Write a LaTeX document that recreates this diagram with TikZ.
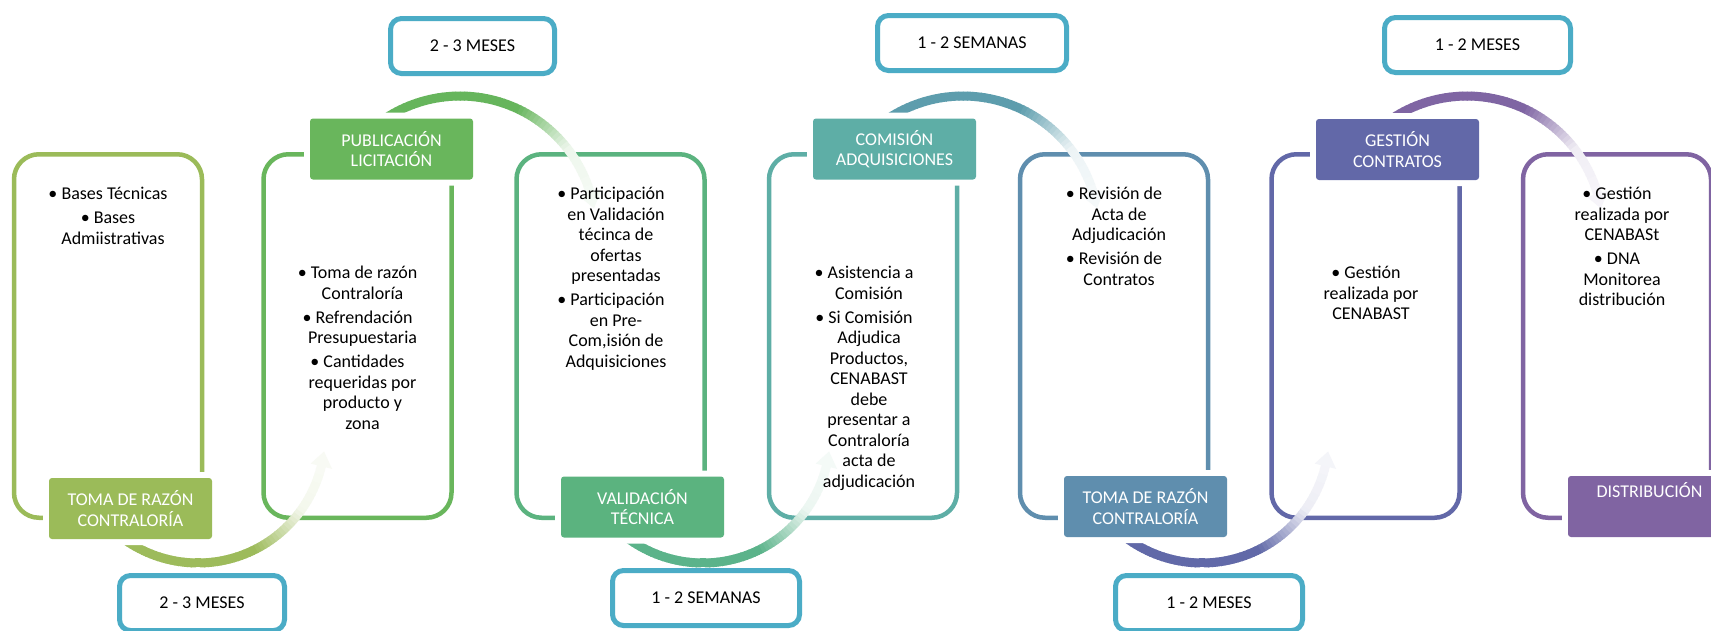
\documentclass[tikz,border=0pt]{standalone}
\usepackage{fontspec}
\setmainfont{Carlito}
\usetikzlibrary{calc}
\definecolor{c1}{HTML}{9BBB59}
\definecolor{c2}{HTML}{69B65C}
\definecolor{c3}{HTML}{5BB37F}
\definecolor{c4}{HTML}{5EAEA6}
\definecolor{c5}{HTML}{5F8EAE}
\definecolor{c6}{HTML}{6268A8}
\definecolor{c7}{HTML}{8064A2}
\definecolor{a1}{HTML}{9DBB5B}
\definecolor{a2}{HTML}{66B55C}
\definecolor{a3}{HTML}{5BB38A}
\definecolor{a4}{HTML}{5D9DAD}
\definecolor{a5}{HTML}{6169A8}
\definecolor{a6}{HTML}{7F65A3}
\definecolor{durc}{HTML}{4BACC6}
\newcommand{\bodyfont}{\fontsize{18}{20.5}\selectfont}
\newcommand{\contl}{\hspace*{10pt}}
\newcommand{\fstl}{\rule{0pt}{16pt}}
% #1 cx, #2 cy, #3 radius, #4 start angle, #5 tip angle, #6 colour
\newcommand{\flowarc}[6]{%
  \pgfmathsetmacro{\fasgn}{(#5>#4) ? 1 : -1}
  \pgfmathsetmacro{\falen}{15/(#3)*180/pi}
  \pgfmathsetmacro{\fabase}{#5-\fasgn*\falen}
  \pgfmathsetmacro{\faspan}{\fabase-(#4)}
  \pgfmathsetmacro{\fari}{#3-11}
  \pgfmathsetmacro{\faro}{#3+11}
  \foreach \fai in {0,...,59}{%
    \pgfmathsetmacro{\fat}{\fai/60}
    \pgfmathsetmacro{\fasa}{#4+\faspan*\fat}
    \pgfmathsetmacro{\faea}{#4+\faspan*(\fat+1/60)+\fasgn*0.4}
    \pgfmathtruncatemacro{\fapp}{\fat<0.55 ? 100 : (\fat<0.80 ? 100-(\fat-0.55)/0.25*88 : 12-(\fat-0.80)/0.20*5)}
    \draw[line width=9pt, draw={#6!\fapp!white}] ([shift={(\fasa:#3)}]#1,#2) arc[start angle=\fasa, end angle=\faea, radius=#3];
  }
  \fill[#6!7!white] ([shift={(\fabase:\fari)}]#1,#2) -- ([shift={(#5:#3)}]#1,#2) -- ([shift={(\fabase:\faro)}]#1,#2) -- cycle;
}
\tikzset{
  stepbox/.style={draw=#1, line width=4.5pt, rounded corners=25pt, minimum width=188pt, minimum height=363.5pt, inner sep=0pt},
  lab/.style={fill=#1, rounded corners=3pt, minimum width=163pt, minimum height=61pt, inner sep=0pt, text=white, align=center, font=\bodyfont, preaction={draw=white, line width=12pt}},
  dur/.style={draw=durc, fill=white, line width=5pt, rounded corners=11pt, inner sep=0pt, minimum height=55pt, font=\bodyfont},
  txt/.style={align=center, anchor=north, inner sep=0pt, font=\bodyfont},
}
\begin{document}
\begin{tikzpicture}[x=1pt,y=-1pt]
\fill[white] (0,0) rectangle (1711,630);
\useasboundingbox (0,0) rectangle (1711,630);

% main boxes
\node[stepbox=c1] (b1) at (108,336) {};
\node[stepbox=c2] (b2) at (357.5,336) {};
\node[stepbox=c3] (b3) at (610.5,336) {};
\node[stepbox=c4] (b4) at (863,336) {};
\node[stepbox=c5] (b5) at (1114,336) {};
\node[stepbox=c6] (b6) at (1365.5,336) {};
\node[stepbox=c7] (b7) at (1617,336) {};

% duration boxes
\node[dur, minimum width=164pt] (t1) at (472.5,46) {2 - 3 MESES};
\node[dur, minimum width=189pt] (t2) at (972,43) {1 - 2 SEMANAS};
\node[dur, minimum width=186pt] (t3) at (1477.5,45) {1 - 2 MESES};
\node[dur, minimum width=165pt] (d1) at (202,603) {2 - 3 MESES};
\node[dur, minimum width=187pt] (d2) at (706,598) {1 - 2 SEMANAS};
\node[dur, minimum width=187pt] (d3) at (1209,603) {1 - 2 MESES};

% curved arrows
\flowarc{198}{436}{127}{127}{7}{a1}
\flowarc{460}{232}{136}{-127}{-10}{a2}
\flowarc{703}{436}{127}{127}{7}{a3}
\flowarc{963}{232}{136}{-127}{-10}{a4}
\flowarc{1202}{436}{127}{127}{7}{a5}
\flowarc{1467}{232}{136}{-127}{-10}{a6}

% labels
\node[lab=c1] (l1) at (130.5,508.5) {TOMA DE RAZÓN\\CONTRALORÍA};
\node[lab=c2] (l2) at (391.5,149) {PUBLICACIÓN\\LICITACIÓN};
\node[lab=c3] (l3) at (642.5,507) {VALIDACIÓN\\TÉCNICA};
\node[lab=c4] (l4) at (894.5,149) {COMISIÓN\\ADQUISICIONES};
\node[lab=c5] (l5) at (1145.5,506.5) {TOMA DE RAZÓN\\CONTRALORÍA};
\node[lab=c6] (l6) at (1397.5,149.5) {GESTIÓN\\CONTRATOS};
\node[lab=c7] (l7) at (1649.5,506.5) {DISTRIBUCIÓN\\[6pt]\strut};

% box texts
\node[txt] (x1) at (108,183.5) {\fstl• Bases Técnicas\\[3.5pt]• Bases\\\contl Admiistrativas};
\node[txt] (x2) at (357.5,262.5) {\fstl• Toma de razón\\\contl Contraloría\\[3.5pt]• Refrendación\\\contl Presupuestaria\\[3.5pt]• Cantidades\\\contl requeridas por\\\contl producto y\\\contl zona};
\node[txt] (x3) at (611,183.5) {\fstl• Participación\\\contl en Validación\\\contl técinca de\\\contl ofertas\\\contl presentadas\\[3.5pt]• Participación\\\contl en Pre-\\\contl Com,isión de\\\contl Adquisiciones};
\node[txt] (x4) at (864,262.5) {\fstl• Asistencia a\\\contl Comisión\\[3.5pt]• Si Comisión\\\contl Adjudica\\\contl Productos,\\\contl CENABAST\\\contl debe\\\contl presentar a\\\contl Contraloría\\\contl acta de\\\contl adjudicación};
\node[txt] (x5) at (1114,183.5) {\fstl• Revisión de\\\contl Acta de\\\contl Adjudicación\\[3.5pt]• Revisión de\\\contl Contratos};
\node[txt] (x6) at (1366,262.5) {\fstl• Gestión\\\contl realizada por\\\contl CENABAST};
\node[txt] (x7) at (1617,183.5) {\fstl• Gestión\\\contl realizada por\\\contl CENABASt\\[3.5pt]• DNA\\\contl Monitorea\\\contl distribución};
\end{tikzpicture}
\end{document}
